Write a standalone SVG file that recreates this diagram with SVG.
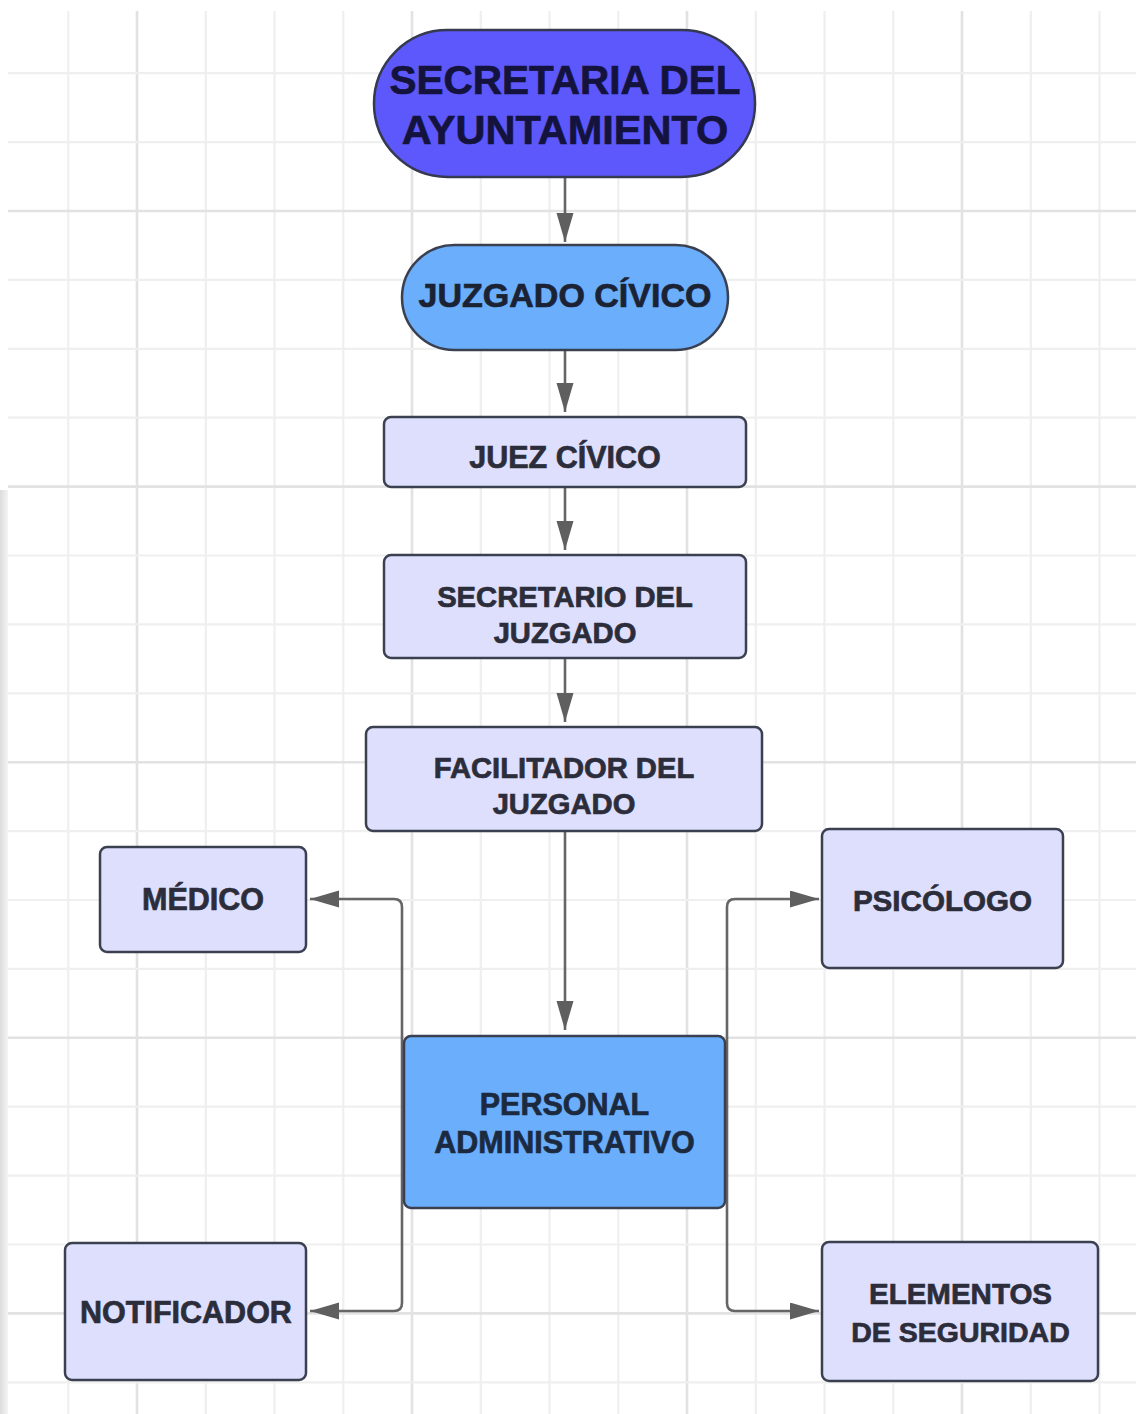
<svg xmlns="http://www.w3.org/2000/svg" width="1136" height="1414" viewBox="0 0 1136 1414">
<defs>
<style>
.g{stroke:#efefef;stroke-width:2.2}
.gm{stroke:#e2e2e2;stroke-width:2.6}
.box{fill:#dedffc;stroke:#3b4050;stroke-width:2.5}
.blue{fill:#6aaefc;stroke:#3b4050;stroke-width:2.5}
.purple{fill:#5c58fc;stroke:#353a50;stroke-width:2.5}
.t{font-family:"Liberation Sans",Arial,sans-serif;font-weight:bold;text-anchor:middle;fill:#2c2d3b;stroke:#2c2d3b;stroke-width:0.7}
.conn{fill:none;stroke:#666666;stroke-width:2.6}
</style>
<marker id="ah" markerUnits="userSpaceOnUse" markerWidth="30" markerHeight="18" refX="29" refY="8.5" orient="auto">
<path d="M0,0 L29,8.5 L0,17 z" fill="#5f5f5f"/>
</marker>
<linearGradient id="edge" x1="0" y1="0" x2="1" y2="0">
<stop offset="0" stop-color="#dcdcdc"/>
<stop offset="1" stop-color="#f4f4f4"/>
</linearGradient>
</defs>
<rect x="0" y="0" width="1136" height="1414" fill="#ffffff"/>
<rect x="0" y="490" width="8" height="924" fill="url(#edge)"/>
<g id="grid">
<line class="g" x1="68.3" y1="11" x2="68.3" y2="1414"/>
<line class="gm" x1="137" y1="11" x2="137" y2="1414"/>
<line class="g" x1="205.8" y1="11" x2="205.8" y2="1414"/>
<line class="g" x1="274.5" y1="11" x2="274.5" y2="1414"/>
<line class="g" x1="343.3" y1="11" x2="343.3" y2="1414"/>
<line class="gm" x1="412" y1="11" x2="412" y2="1414"/>
<line class="g" x1="480.8" y1="11" x2="480.8" y2="1414"/>
<line class="g" x1="549.5" y1="11" x2="549.5" y2="1414"/>
<line class="g" x1="618.3" y1="11" x2="618.3" y2="1414"/>
<line class="gm" x1="687" y1="11" x2="687" y2="1414"/>
<line class="g" x1="755.8" y1="11" x2="755.8" y2="1414"/>
<line class="g" x1="824.5" y1="11" x2="824.5" y2="1414"/>
<line class="g" x1="893.3" y1="11" x2="893.3" y2="1414"/>
<line class="gm" x1="962" y1="11" x2="962" y2="1414"/>
<line class="g" x1="1030.8" y1="11" x2="1030.8" y2="1414"/>
<line class="g" x1="1099.5" y1="11" x2="1099.5" y2="1414"/>
<line class="g" x1="8" y1="73.2" x2="1136" y2="73.2"/>
<line class="g" x1="8" y1="142.1" x2="1136" y2="142.1"/>
<line class="gm" x1="8" y1="211" x2="1136" y2="211"/>
<line class="g" x1="8" y1="279.9" x2="1136" y2="279.9"/>
<line class="g" x1="8" y1="348.8" x2="1136" y2="348.8"/>
<line class="g" x1="8" y1="417.7" x2="1136" y2="417.7"/>
<line class="gm" x1="8" y1="486.6" x2="1136" y2="486.6"/>
<line class="g" x1="8" y1="555.5" x2="1136" y2="555.5"/>
<line class="g" x1="8" y1="624.4" x2="1136" y2="624.4"/>
<line class="g" x1="8" y1="693.3" x2="1136" y2="693.3"/>
<line class="gm" x1="8" y1="762.2" x2="1136" y2="762.2"/>
<line class="g" x1="8" y1="831.1" x2="1136" y2="831.1"/>
<line class="g" x1="8" y1="900" x2="1136" y2="900"/>
<line class="g" x1="8" y1="968.9" x2="1136" y2="968.9"/>
<line class="gm" x1="8" y1="1037.8" x2="1136" y2="1037.8"/>
<line class="g" x1="8" y1="1106.7" x2="1136" y2="1106.7"/>
<line class="g" x1="8" y1="1175.6" x2="1136" y2="1175.6"/>
<line class="g" x1="8" y1="1244.5" x2="1136" y2="1244.5"/>
<line class="gm" x1="8" y1="1313.4" x2="1136" y2="1313.4"/>
<line class="g" x1="8" y1="1382.3" x2="1136" y2="1382.3"/>
</g>
<g id="connectors">
<path class="conn" d="M565,177 V242" marker-end="url(#ah)"/>
<path class="conn" d="M565,350 V412" marker-end="url(#ah)"/>
<path class="conn" d="M565,487 V550" marker-end="url(#ah)"/>
<path class="conn" d="M565,658 V722" marker-end="url(#ah)"/>
<path class="conn" d="M565,831 V1030" marker-end="url(#ah)"/>
<path class="conn" d="M402,1120 V907 Q402,899 394,899 H310" marker-end="url(#ah)"/>
<path class="conn" d="M402,1120 V1303 Q402,1311 394,1311 H310" marker-end="url(#ah)"/>
<path class="conn" d="M727,1120 V907 Q727,899 735,899 H819" marker-end="url(#ah)"/>
<path class="conn" d="M727,1120 V1303 Q727,1311 735,1311 H819" marker-end="url(#ah)"/>
</g>
<g id="secretaria-ayuntamiento">
<rect class="purple" x="374" y="30" width="381" height="147" rx="73.5"/>
<text class="t" x="565" y="94" font-size="40.5" style="fill:#14133d;stroke:#14133d">SECRETARIA DEL</text>
<text class="t" x="565" y="144" font-size="41.5" style="fill:#14133d;stroke:#14133d">AYUNTAMIENTO</text>
</g>
<g id="juzgado-civico">
<rect class="blue" x="402" y="245" width="326" height="105" rx="52.5"/>
<text class="t" x="565" y="307" font-size="34" style="fill:#1a2233;stroke:#1a2233">JUZGADO CÍVICO</text>
</g>
<g id="juez-civico">
<rect class="box" x="384" y="417" width="362" height="70" rx="7"/>
<text class="t" x="565" y="468" font-size="30.5">JUEZ CÍVICO</text>
</g>
<g id="secretario-juzgado">
<rect class="box" x="384" y="555" width="362" height="103" rx="7"/>
<text class="t" x="565" y="607" font-size="29.2">SECRETARIO DEL</text>
<text class="t" x="565" y="643" font-size="29.2">JUZGADO</text>
</g>
<g id="facilitador-juzgado">
<rect class="box" x="366" y="727" width="396" height="104" rx="7"/>
<text class="t" x="564" y="778" font-size="29.2">FACILITADOR DEL</text>
<text class="t" x="564" y="814" font-size="29.2">JUZGADO</text>
</g>
<g id="medico">
<rect class="box" x="100" y="847" width="206" height="105" rx="7"/>
<text class="t" x="203" y="910" font-size="30.5">MÉDICO</text>
</g>
<g id="psicologo">
<rect class="box" x="822" y="829" width="241" height="139" rx="7"/>
<text class="t" x="942.5" y="911" font-size="29.6">PSICÓLOGO</text>
</g>
<g id="personal-administrativo">
<rect class="blue" x="404" y="1036" width="321" height="172" rx="7"/>
<text class="t" x="564.5" y="1115" font-size="30.5" style="fill:#1c2a40;stroke:#1c2a40">PERSONAL</text>
<text class="t" x="564.5" y="1153" font-size="30.5" style="fill:#1c2a40;stroke:#1c2a40">ADMINISTRATIVO</text>
</g>
<g id="notificador">
<rect class="box" x="65" y="1243" width="241" height="137" rx="7"/>
<text class="t" x="186" y="1323" font-size="30.5">NOTIFICADOR</text>
</g>
<g id="elementos-seguridad">
<rect class="box" x="822" y="1242" width="276" height="139" rx="7"/>
<text class="t" x="960.5" y="1304" font-size="29.5">ELEMENTOS</text>
<text class="t" x="960.5" y="1342" font-size="28.5">DE SEGURIDAD</text>
</g>
</svg>
